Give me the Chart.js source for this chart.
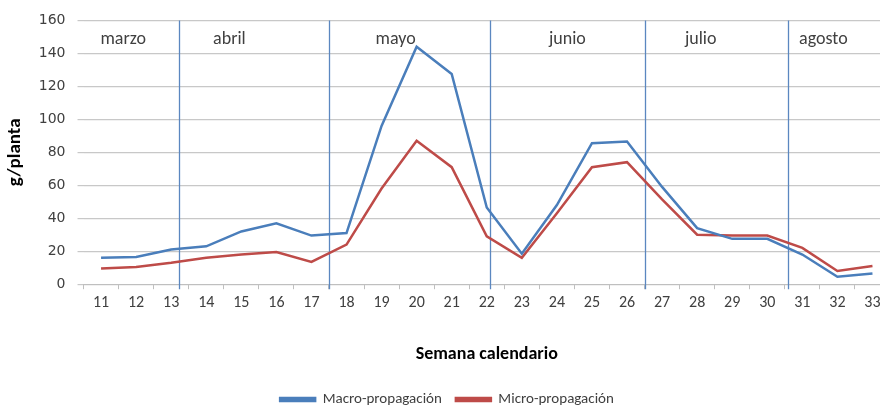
<!DOCTYPE html>
<html>
<head>
<meta charset="utf-8">
<script src="https://cdn.jsdelivr.net/npm/chart.js@4/dist/chart.umd.min.js"></script>
<style>
  html, body { margin: 0; padding: 0; background: #fff; overflow: hidden; }
  #wrap { width: 893px; height: 406px; }
</style>
</head>
<body>
<div id="wrap"><canvas id="myChart1"></canvas></div>
<script>
const weeks = ['11','12','13','14','15','16','17','18','19','20','21','22','23','24','25','26','27','28','29','30','31','32','33'];
const macro = [16, 16.5, 21, 23, 32, 37, 29.5, 31, 96, 144, 127.5, 46.5, 18.5, 48, 85.5, 86.5, 59, 34, 27.5, 27.5, 18, 4.5, 6.5];
const micro = [9.5, 10.5, 13, 16, 18, 19.5, 13.5, 24, 58, 87, 71, 29, 16, 43, 71, 74, 51.5, 30, 29.5, 29.5, 22, 8, 11];

// month borders and month names (in calendar weeks)
const monthBreaks = [13.23, 17.51, 22.09, 26.51, 30.6];
const monthNames = ['marzo', 'abril', 'mayo', 'junio', 'julio', 'agosto'];
const monthLabelWeeks = [11.63, 14.66, 19.4, 24.3, 28.1, 31.6];

const font = "'Carlito', 'Liberation Sans Narrow', 'Liberation Sans', sans-serif";

const monthPlugin = {
    id: 'months',
    beforeDatasetsDraw(chart) {
        const c = chart.ctx, x = chart.scales.x, a = chart.chartArea;
        c.save();
        c.strokeStyle = '#5b87c0';
        c.lineWidth = 1.3;
        monthBreaks.forEach((w) => {
            const px = Math.round(x.getPixelForValue(w - 11)) + 0.5;
            c.beginPath();
            c.moveTo(px, a.top);
            c.lineTo(px, a.bottom + 5);
            c.stroke();
        });
        c.fillStyle = '#404040';
        c.font = '18px ' + font;
        c.textAlign = 'center';
        c.textBaseline = 'middle';
        monthNames.forEach((m, i) => {
            c.fillText(m, x.getPixelForValue(monthLabelWeeks[i] - 11), a.top + 19);
        });
        c.restore();
    }
};

const ctx = document.getElementById('myChart1');
new Chart(ctx, {
    type: 'line',
    data: {
        labels: weeks,
        datasets: [{
            label: 'Macro-propagación',
            data: macro,
            borderColor: '#4a7ebb',
            backgroundColor: '#4a7ebb',
            borderWidth: 2.5,
            pointRadius: 0,
            tension: 0
        }, {
            label: 'Micro-propagación',
            data: micro,
            borderColor: '#be4b48',
            backgroundColor: '#be4b48',
            borderWidth: 2.5,
            pointRadius: 0,
            tension: 0
        }]
    },
    options: {
        responsive: true,
        maintainAspectRatio: false,
        animation: false,
        layout: { padding: { left: 4, right: 3, top: 14, bottom: -11 } },
        plugins: {
            legend: {
                position: 'bottom',
                labels: {
                    boxWidth: 35,
                    boxHeight: 3,
                    color: '#404040',
                    font: { family: font, size: 15 },
                    padding: 14
                }
            },
            tooltip: { enabled: false }
        },
        scales: {
            x: {
                offset: true,
                grid: { drawOnChartArea: false, drawTicks: true, tickLength: 5, color: '#bfbfbf', offset: true },
                border: { color: '#bfbfbf' },
                ticks: { color: '#404040', font: { family: font, size: 16 }, padding: 4, maxRotation: 0, autoSkip: false },
                title: { display: true, text: 'Semana calendario', color: '#000', font: { family: font, size: 18, weight: 'bold' }, padding: { top: 27, bottom: 13 } }
            },
            y: {
                min: 0,
                max: 160,
                ticks: { stepSize: 20, color: '#404040', font: { family: "'DejaVu Sans', sans-serif", size: 14 }, padding: 12 },
                grid: { color: '#c8c8c8', lineWidth: 1.2, drawTicks: true, tickLength: 6 },
                border: { display: false },
                title: { display: true, text: 'g/planta', color: '#000', font: { family: font, size: 19, weight: 'bold' }, padding: { top: 0, bottom: 0 } }
            }
        }
    },
    plugins: [monthPlugin]
});
</script>
</body>
</html>
